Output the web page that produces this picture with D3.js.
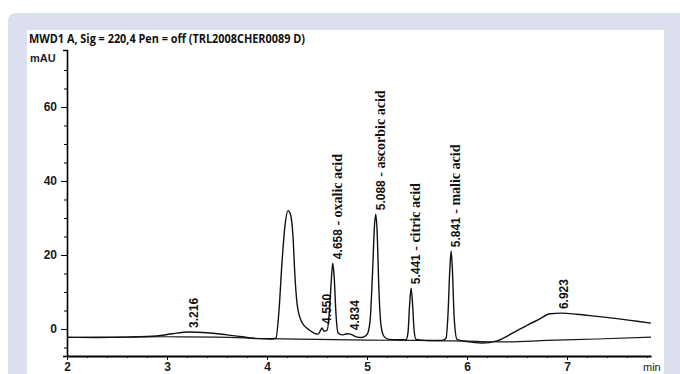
<!DOCTYPE html>
<html>
<head>
<meta charset="utf-8">
<script src="https://cdn.jsdelivr.net/npm/d3@7"></script>
<style>
  body { margin: 0; background: #fff; }
  svg { display: block; }
</style>
</head>
<body>
<svg id="chart" width="680" height="374"></svg>
<script>
// chromatogram trace [min, mAU]
var trace = [
  [2.00,-2.2],[2.30,-2.3],[2.60,-2.2],[2.90,-1.9],[3.05,-1.3],[3.216,-0.8],[3.40,-1.0],[3.60,-1.6],
  [3.75,-2.1],[3.90,-2.6],[4.05,-2.7],[4.09,-2.4],[4.12,5],[4.15,18],[4.18,28],[4.21,32],[4.235,31],
  [4.26,25],[4.28,14],[4.30,7],[4.33,3],[4.37,1],[4.42,-0.2],[4.47,-1.1],[4.51,-1.4],[4.535,-0.4],
  [4.55,0.3],[4.57,-0.6],[4.60,-0.4],[4.625,5],[4.645,14],[4.658,17.8],[4.672,14],[4.69,4],[4.71,-1],
  [4.75,-1.6],[4.80,-1.3],[4.834,-1.4],[4.90,-2.2],[4.95,-2.3],[5.00,-1.5],[5.03,2],[5.055,15],
  [5.075,28],[5.088,31],[5.10,27],[5.12,10],[5.14,1],[5.17,-2],[5.22,-2.8],[5.30,-2.9],[5.39,-2.9],
  [5.41,-1],[5.425,6],[5.441,11],[5.455,7],[5.47,0],[5.49,-2.8],[5.60,-3.1],[5.75,-3.1],[5.79,-2.5],
  [5.81,4],[5.828,16],[5.841,21],[5.854,16],[5.872,3],[5.90,-2.8],[6.00,-3.4],[6.15,-3.8],[6.30,-3.2],
  [6.45,-1.2],[6.60,1.0],[6.72,2.6],[6.83,4.1],[6.95,4.3],[7.10,4.0],[7.30,3.4],[7.50,2.8],[7.70,2.1],
  [7.84,1.6]
];
// integration baseline [min, mAU]
var baseline = [
  [2.0,-2.3],[3.0,-2.1],[3.5,-2.2],[4.0,-2.6],[4.5,-2.8],[5.0,-3.0],[5.5,-3.1],[6.0,-3.3],
  [6.4,-3.5],[6.8,-3.1],[7.3,-2.7],[7.84,-2.2]
];
// peak labels: retention time, apex mAU, compound
var peakTimes = ["3.216","4.550","4.658","4.834","5.088","5.441","5.841","6.923"];
var peakHeights = [-0.8, 0.3, 17.8, -1.4, 31, 11, 21, 4.3];
var peakNames = ["", "", "oxalic acid", "", "ascorbic acid", "citric acid", "malic acid", ""];

var xTicks = [2, 3, 4, 5, 6, 7];
var yTicks = [0, 20, 40, 60];
var title = "MWD1 A, Sig = 220,4 Pen = off (TRL2008CHER0089 D)";

var svg = d3.select("#chart");

// panel backgrounds
svg.append("rect").attr("x", 8).attr("y", 13).attr("width", 690).attr("height", 380)
  .attr("rx", 8).attr("fill", "#dcdfed");
svg.append("rect").attr("x", 27).attr("y", 30).attr("width", 637).attr("height", 360)
  .attr("fill", "#fff");

var x = d3.scaleLinear().domain([2, 7.84]).range([67, 651]);
var y = d3.scaleLinear().domain([-7.3, 75.4]).range([356, 50]);

// minor ticks
svg.append("g").attr("transform", "translate(67,0)")
  .call(d3.axisLeft(y).tickValues(d3.range(-5, 75, 5)).tickSize(3).tickFormat(""))
  .call(function(g) { g.select(".domain").remove(); });
svg.append("g").attr("transform", "translate(0,356)")
  .call(d3.axisBottom(x).tickValues(d3.range(2.2, 7.84, 0.2)).tickSize(2).tickFormat(""))
  .call(function(g) { g.select(".domain").remove(); });

function styleTicks(g) {
  g.selectAll(".tick text")
    .attr("font-family", "Liberation Sans, Arial, sans-serif")
    .attr("font-weight", "bold").attr("font-size", 12).attr("fill", "#1a1a1a");
}

// y axis
var yAxis = svg.append("g").attr("transform", "translate(67,0)")
  .call(d3.axisLeft(y).tickValues(yTicks).tickSize(6).tickSizeOuter(4).tickPadding(4))
  .call(styleTicks);
yAxis.select(".domain").attr("stroke-width", 1.6);

// x axis
var xAxis = svg.append("g").attr("transform", "translate(0,356)")
  .call(d3.axisBottom(x).tickValues(xTicks).tickFormat(d3.format("d"))
    .tickSize(4).tickSizeOuter(0).tickPadding(2))
  .call(styleTicks);
xAxis.select(".domain").attr("stroke-width", 2);

svg.append("text").attr("x", 643).attr("y", 371)
  .attr("font-family", "Liberation Sans, Arial, sans-serif").attr("font-size", 11)
  .attr("fill", "#222").text("min");

svg.append("text").attr("x", 30).attr("y", 62)
  .attr("font-family", "Liberation Sans, Arial, sans-serif").attr("font-size", 11)
  .attr("font-weight", "bold").attr("fill", "#222").text("mAU");

svg.append("text").attr("x", 29).attr("y", 43)
  .attr("font-family", "Open Sans, sans-serif").attr("font-size", 12)
  .attr("font-weight", "bold").attr("fill", "#111")
  .attr("textLength", 276).attr("lengthAdjust", "spacingAndGlyphs")
  .text(title);

var line = d3.line().x(function(d) { return x(d[0]); }).y(function(d) { return y(d[1]); })
  .curve(d3.curveMonotoneX);

svg.append("path").datum(baseline).attr("d", line)
  .attr("fill", "none").attr("stroke", "#1a1a1a").attr("stroke-width", 1.2);
svg.append("path").datum(trace).attr("d", line)
  .attr("fill", "none").attr("stroke", "#111").attr("stroke-width", 1.4)
  .attr("stroke-linejoin", "round");

// peak labels
peakTimes.forEach(function(t, i) {
  var px = x(+t) + 9, py = y(peakHeights[i]) - 4;
  var txt = svg.append("text")
    .attr("transform", "translate(" + px + "," + py + ") rotate(-90)")
    .attr("fill", "#111");
  txt.append("tspan").attr("font-family", "Liberation Sans, Arial, sans-serif")
    .attr("font-weight", "bold").attr("font-size", 12).text(t);
  if (peakNames[i]) {
    txt.append("tspan").attr("font-family", "Liberation Serif, Times New Roman, serif")
      .attr("font-weight", "bold").attr("font-size", 14).text(" - " + peakNames[i]);
  }
});
</script>
</body>
</html>
